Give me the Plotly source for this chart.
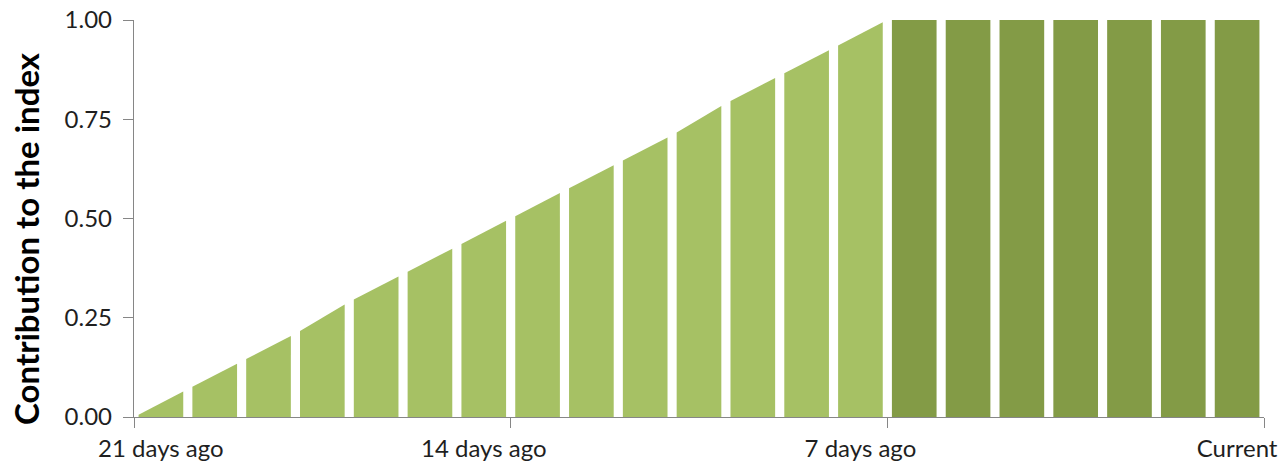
import numpy as np
import plotly.graph_objects as go

# Index weight at each day boundary, from 21 days ago (0) to the current day (21)
boundary_weight = [0.00, 0.07, 0.14, 0.21, 0.29, 0.36, 0.43, 0.50, 0.57, 0.64, 0.71,
                   0.79, 0.86, 0.93, 1.00, 1.00, 1.00, 1.00, 1.00, 1.00, 1.00, 1.00]
# Which phase each daily bar belongs to
phase = ["ramp"] * 14 + ["full"] * 7

# Tick marks sit on week boundaries; labels sit on the centre of a day slot
tick_pos = [0, 7, 14, 21]
label_pos = [0.5, 6.5, 13.5, 20.5]
tick_text = ["21 days ago", "14 days ago", "7 days ago", "Current"]

colors = {"ramp": "#A6C164", "full": "#839B46"}
inset = 0.085  # white gap half-width between bars, in days

xb = np.arange(len(boundary_weight), dtype=float)
wb = np.array(boundary_weight)

fig = go.Figure()
for i, ph in enumerate(phase):
    a, b = i + inset, i + 1 - inset
    ya, yb = np.interp([a, b], xb, wb)
    fig.add_trace(go.Scatter(
        x=[a, a, b, b, a], y=[0, ya, yb, 0, 0],
        mode="lines", fill="toself", fillcolor=colors[ph],
        line=dict(width=0, color=colors[ph]),
        hoverinfo="skip", showlegend=False,
    ))

tick_font = dict(family="Lato", size=24, color="#1f1f1f")
axis_style = dict(
    showline=True, linecolor="#868686", linewidth=1.3,
    ticks="outside", tickcolor="#868686", ticklen=10, tickwidth=1.3,
    showgrid=False, zeroline=False, automargin=False,
    tickfont=tick_font,
)

fig.update_layout(
    xaxis=dict(range=[0, 21], tickmode="array", tickvals=tick_pos,
               showticklabels=False, **axis_style),
    xaxis2=dict(range=[0, 21], overlaying="x", side="bottom", matches="x",
                tickmode="array", tickvals=label_pos, ticktext=tick_text,
                showline=False, ticks="outside", ticklen=10, tickcolor="rgba(0,0,0,0)",
                showgrid=False, zeroline=False, automargin=False, tickfont=tick_font),
    yaxis=dict(range=[0, 1], tickmode="array", tickvals=[0, 0.25, 0.5, 0.75, 1.0],
               tickformat=".2f", ticklabelstandoff=6, **axis_style),
)
# Invisible anchor trace so the label axis is drawn
fig.add_trace(go.Scatter(x=[0], y=[0], xaxis="x2", mode="markers",
                         marker=dict(opacity=0), hoverinfo="skip", showlegend=False))

fig.add_annotation(
    text="Contribution to the index", textangle=-90,
    xref="paper", yref="paper", x=-0.0956, y=0.451,
    xanchor="center", yanchor="middle", showarrow=False,
    font=dict(family="Lato", size=33, color="#000000", weight="bold"),
)

fig.update_layout(
    width=1285, height=472,
    margin=dict(l=134, r=21, t=20, b=55),
    paper_bgcolor="white", plot_bgcolor="white",
)

fig.write_html("out.html")
